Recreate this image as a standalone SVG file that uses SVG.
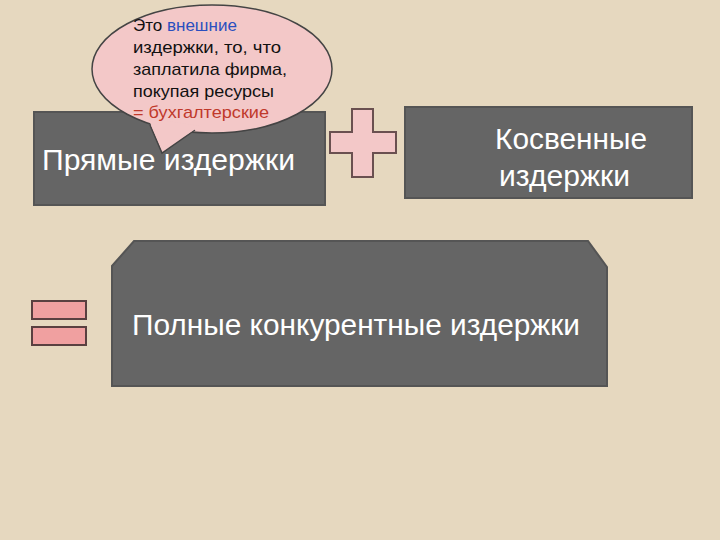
<svg xmlns="http://www.w3.org/2000/svg" width="720" height="540" viewBox="0 0 720 540">
<style>
.box{fill:#656565;stroke:#555;stroke-width:2}
.wt{fill:#fff;font-family:"Liberation Sans",Arial,sans-serif;font-size:30px}
.bt{font-family:"Liberation Sans",Arial,sans-serif;font-size:17px;fill:#111}
.pink{fill:#f0a0a0;stroke:#5a4040;stroke-width:2}
</style>
<rect width="720" height="540" fill="#e6d8bf"/>
<g id="direct"><rect class="box" x="34" y="112" width="291" height="93"/><text class="wt" x="42" y="170" textLength="253" lengthAdjust="spacingAndGlyphs">Прямые издержки</text></g>
<g id="bubble">
<ellipse cx="212" cy="69" rx="120" ry="64" fill="#f3c8c8" stroke="#444" stroke-width="1.5"/>
<path d="M150,125 L162,153 L195,130" fill="#f3c8c8" stroke="#444" stroke-width="1.5"/>
<path d="M148,118 L162,150 L200,126 Z" fill="#f3c8c8"/>
<text class="bt" lengthAdjust="spacingAndGlyphs"><tspan x="133" y="31">Это <tspan fill="#2a4fbf">внешние</tspan></tspan><tspan x="133" y="53" textLength="148" lengthAdjust="spacingAndGlyphs">издержки, то, что</tspan><tspan x="133" y="75" textLength="154" lengthAdjust="spacingAndGlyphs">заплатила фирма,</tspan><tspan x="133" y="97" textLength="141" lengthAdjust="spacingAndGlyphs">покупая ресурсы</tspan><tspan x="133" y="118" fill="#c0392b" textLength="136" lengthAdjust="spacingAndGlyphs">= бухгалтерские</tspan></text>
</g>
<g id="plus"><path d="M352,109 H373 V132 H396 V153 H373 V177 H352 V153 H330 V132 H352 Z" fill="#f3c8c8" stroke="#6a5050" stroke-width="2"/></g>
<g id="indirect"><rect class="box" x="405" y="107" width="287" height="91"/><text class="wt"><tspan x="495" y="149" textLength="152" lengthAdjust="spacingAndGlyphs">Косвенные</tspan><tspan x="499" y="186" textLength="131" lengthAdjust="spacingAndGlyphs">издержки</tspan></text></g>
<g id="equals"><rect class="pink" x="32" y="301" width="54" height="18"/><rect class="pink" x="32" y="327" width="54" height="18"/></g>
<g id="total"><path class="box" d="M134,241 H588 L607,267 V386 H112 V266 Z"/><text class="wt" x="132" y="335" textLength="448" lengthAdjust="spacingAndGlyphs">Полные конкурентные издержки</text></g>
<g id="connectors"/>
</svg>
